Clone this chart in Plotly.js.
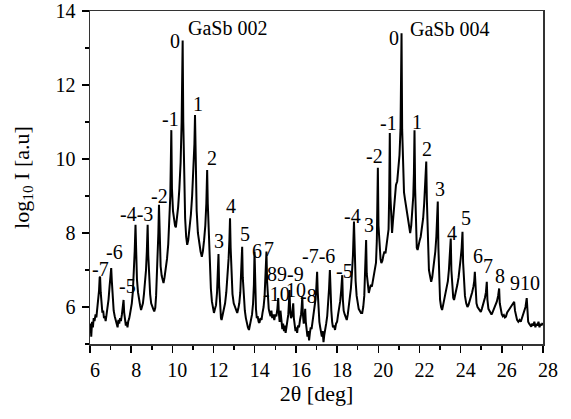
<!DOCTYPE html>
<html>
<head>
<meta charset="utf-8">
<script src="https://cdn.plot.ly/plotly-3.0.1.min.js"></script>
<style>html,body{margin:0;padding:0;background:#fff;}#chart{width:571px;height:419px;}</style>
</head>
<body>
<div id="chart"></div>
<script>
// 2θ (deg) sample positions
const twoTheta = [
6.00,6.03,6.06,6.10,6.14,6.18,6.22,6.27,6.31,6.35,6.40,6.44,6.47,6.49,6.52,6.56,6.60,6.64,6.68,6.72,6.76,6.80,6.85,6.90,6.95,6.99,7.03,7.06,7.10,7.15,7.20,7.25,7.30,7.34,7.38,7.42,7.46,7.50,7.55,7.59,7.63,7.66,7.70,7.74,7.78,7.82,7.86,7.90,7.94,7.98,
8.03,8.08,8.13,8.17,8.21,8.24,8.28,8.33,8.38,8.43,8.48,8.52,8.57,8.62,8.67,8.72,8.76,8.80,8.83,8.87,8.92,8.97,9.02,9.07,9.12,9.17,9.21,9.25,9.29,9.32,9.35,9.38,9.43,9.48,9.53,9.57,9.62,9.68,9.74,9.80,9.85,9.90,9.95,9.98,
10.03,10.08,10.13,10.17,10.22,10.28,10.34,10.40,10.45,10.50,10.53,10.57,10.62,10.67,10.72,10.77,10.83,10.90,10.96,11.02,11.07,11.10,11.13,11.18,11.24,11.30,11.37,11.43,11.48,11.54,11.60,11.65,11.69,11.72,11.77,11.82,11.87,11.92,11.97,
12.02,12.07,12.12,12.17,12.21,12.24,12.27,12.32,12.36,12.39,12.44,12.50,12.56,12.62,12.68,12.73,12.77,12.80,12.83,12.87,12.92,12.98,13.04,13.10,13.15,13.20,13.25,13.30,13.35,13.39,13.42,13.47,13.52,13.57,13.62,13.67,13.72,13.77,13.82,13.87,13.92,13.96,13.99,
14.02,14.06,14.10,14.14,14.19,14.23,14.28,14.33,14.38,14.43,14.48,14.53,14.57,14.60,14.64,14.68,14.72,14.77,14.81,14.85,14.90,14.95,15.00,15.05,15.10,15.14,15.17,15.21,15.25,15.29,15.34,15.38,15.42,15.46,15.50,15.54,15.58,15.63,15.66,15.69,15.72,15.76,15.80,15.84,15.87,15.90,15.94,15.98,
16.02,16.06,16.10,16.15,16.20,16.25,16.28,16.31,16.34,16.38,16.42,16.45,16.48,16.52,16.56,16.60,16.64,16.68,16.72,16.76,16.80,16.85,16.90,16.95,16.99,17.03,17.06,17.10,17.14,17.18,17.22,17.26,17.30,17.34,17.38,17.42,17.47,17.52,17.57,17.61,17.65,17.68,17.72,17.76,17.80,17.85,17.90,17.95,
18.00,18.05,18.10,18.15,18.20,18.25,18.28,18.32,18.37,18.42,18.47,18.52,18.57,18.62,18.67,18.72,18.77,18.82,18.85,18.90,18.95,19.00,19.05,19.10,19.16,19.22,19.27,19.32,19.37,19.41,19.44,19.49,19.54,19.59,19.64,19.69,19.74,19.79,19.84,19.89,19.93,19.98,
20.01,20.06,20.11,20.15,20.20,20.25,20.30,20.35,20.40,20.45,20.50,20.53,20.56,20.59,20.63,20.67,20.71,20.76,20.81,20.86,20.92,20.98,21.03,21.08,21.13,21.16,21.20,21.25,21.30,21.35,21.40,21.45,21.50,21.55,21.60,21.65,21.70,21.73,21.76,21.79,21.83,21.87,21.91,21.96,
22.01,22.06,22.12,22.18,22.23,22.28,22.33,22.36,22.41,22.46,22.51,22.57,22.62,22.67,22.72,22.77,22.82,22.86,22.89,22.92,22.96,23.00,23.05,23.10,23.15,23.20,23.26,23.32,23.38,23.43,23.48,23.52,23.55,23.59,23.64,23.68,23.73,23.78,23.84,23.90,23.95,
24.00,24.05,24.09,24.12,24.16,24.21,24.27,24.33,24.38,24.44,24.50,24.56,24.62,24.66,24.69,24.72,24.77,24.82,24.87,24.93,24.98,25.03,25.08,25.13,25.18,25.23,25.27,25.30,25.35,25.40,25.45,25.50,25.54,25.59,25.64,25.70,25.76,25.82,25.87,25.90,25.95,
26.00,26.05,26.10,26.15,26.20,26.26,26.32,26.38,26.44,26.50,26.55,26.60,26.64,26.69,26.74,26.80,26.86,26.92,26.98,27.04,27.10,27.15,27.21,27.24,27.28,27.33,27.38,27.43,27.48,27.53,27.58,27.63,27.68,27.73,27.78,27.83,27.88,27.93,27.98
];
// log10 intensity read at those positions
const logI = [
5.30,5.55,5.20,5.60,5.45,5.70,5.62,5.80,5.72,5.95,6.10,6.45,6.80,6.82,6.40,6.00,5.85,5.90,5.70,5.75,5.62,5.78,5.95,6.20,6.55,6.90,7.05,6.70,6.20,5.90,5.75,5.62,5.55,5.45,5.65,5.55,5.70,5.62,5.80,5.95,6.19,5.85,5.65,5.50,5.60,5.45,5.62,5.68,5.80,5.90,
6.10,6.40,6.90,7.50,8.22,7.40,6.75,6.40,6.15,6.05,5.92,6.00,6.10,6.35,6.60,7.00,7.50,8.22,7.40,6.70,6.35,6.10,6.00,5.95,5.88,5.98,6.30,6.80,7.40,8.00,8.76,7.80,7.10,6.85,6.70,6.65,6.80,7.00,7.30,7.70,8.20,9.00,10.78,9.20,
8.60,8.35,8.20,8.15,8.35,8.70,9.20,9.90,11.00,13.20,11.00,9.40,8.40,7.90,7.68,7.80,8.10,8.50,9.00,9.60,10.40,11.19,9.90,8.60,8.00,7.70,7.50,7.36,7.50,7.80,8.20,8.80,9.70,8.80,7.80,7.00,6.50,6.15,5.95,
5.84,5.95,6.05,6.40,6.90,7.43,6.60,6.00,5.70,5.65,5.80,5.95,6.10,6.40,6.80,7.30,7.80,8.40,7.60,6.80,6.35,6.10,6.00,5.92,5.84,5.95,6.10,6.40,6.90,7.63,6.80,6.20,5.90,5.70,5.55,5.45,5.38,5.55,5.62,5.80,6.10,6.60,7.50,
6.60,5.95,5.70,5.75,5.60,5.57,5.70,5.65,5.85,6.00,6.30,6.80,7.50,6.70,6.10,5.95,5.85,5.75,5.90,5.70,5.80,5.65,5.80,5.75,5.95,6.24,5.85,5.60,5.90,5.55,5.40,5.55,5.35,5.50,5.30,5.45,5.60,5.80,6.10,6.46,5.90,5.70,5.75,5.90,6.10,5.70,5.50,5.35,
5.45,5.30,5.50,5.45,5.65,5.80,6.00,6.28,5.80,5.55,5.70,5.95,5.60,5.35,5.20,5.35,5.10,5.30,5.45,5.40,5.55,5.70,5.90,6.20,6.50,6.95,6.40,5.90,5.60,5.45,5.30,5.20,5.35,5.05,5.25,5.45,5.55,5.75,6.10,6.50,7.00,6.40,5.90,5.60,5.45,5.50,5.38,5.55,
5.60,5.80,5.95,6.15,6.45,6.86,6.20,5.90,5.80,5.70,5.65,5.80,6.00,6.20,6.50,6.90,7.40,8.31,7.30,6.70,6.30,6.10,5.95,5.90,5.84,5.84,6.00,6.30,6.90,7.81,6.90,6.50,6.38,6.50,6.60,6.55,6.70,6.80,6.95,7.20,7.80,9.76,
8.20,7.50,7.30,7.19,7.25,7.40,7.50,7.45,7.65,7.80,8.10,9.00,10.70,9.00,8.20,8.00,8.30,8.70,9.10,9.30,9.40,9.70,10.10,10.80,13.40,10.80,9.60,9.10,8.90,8.70,8.62,8.40,8.20,8.00,8.20,8.50,9.00,9.60,10.78,9.20,8.00,7.60,7.54,7.70,
7.80,7.90,8.10,8.40,8.80,9.30,9.93,8.90,7.60,7.00,6.85,6.68,6.80,7.00,7.20,7.50,7.90,8.40,8.85,7.60,6.60,6.20,6.00,5.92,6.05,6.20,6.35,6.50,6.70,7.00,7.40,7.85,7.00,6.50,6.25,6.19,6.30,6.40,6.60,6.80,7.00,
7.30,7.60,8.03,7.20,6.60,6.30,6.10,6.00,6.05,6.15,6.25,6.40,6.55,6.70,6.95,6.40,6.10,6.00,5.95,5.90,5.87,5.95,6.05,6.10,6.25,6.40,6.68,6.20,5.95,5.90,5.85,5.80,5.84,5.90,6.00,6.05,6.15,6.30,6.50,6.10,5.90,
5.80,5.75,5.78,5.72,5.74,5.85,5.90,5.95,6.00,6.05,6.10,6.14,5.90,5.75,5.65,5.60,5.65,5.60,5.70,5.80,5.90,6.00,6.24,5.80,5.60,5.55,5.50,5.47,5.55,5.50,5.60,5.45,5.55,5.50,5.60,5.45,5.55,5.50,5.57
];
// Satellite / peak labels
const labelText = ["-7","-6","-5","-4-3","-2","-1","0","1","2","3","4","5","6","7","89-9","-10","10","-8","-7-6","-5","-4","3","-2","-1","0","1","2","3","4","5","6","7","8","910"];
const labelX    = [6.49,7.19,7.80,8.24,9.38,9.93,10.15,11.25,11.93,12.27,12.85,13.53,14.09,14.67,15.50,15.08,16.00,16.59,17.12,18.34,18.75,19.55,19.84,20.50,20.76,21.86,22.37,23.00,23.58,24.26,24.84,25.33,25.91,27.13];
const labelY    = [7.03,7.49,6.57,8.51,9.00,11.08,13.19,11.49,10.04,7.78,8.73,7.97,7.51,7.57,6.90,6.36,6.46,6.30,7.38,6.96,8.46,8.22,10.07,10.97,13.28,10.99,10.28,9.20,8.00,8.41,7.38,7.11,6.84,6.64];
// Reflection names
const reflText = ["GaSb 002","GaSb 004"];
const reflX    = [10.66,21.44];
const reflY    = [13.54,13.51];

const FONT = "'Liberation Serif', 'Times New Roman', serif";
const annotations = [];
for (let i = 0; i < labelText.length; i++) {
  annotations.push({x: labelX[i], y: labelY[i], xref: "x", yref: "y", text: labelText[i],
    showarrow: false, xanchor: "center", yanchor: "middle",
    font: {family: FONT, size: 20, color: "#000"}});
}
for (let i = 0; i < reflText.length; i++) {
  annotations.push({x: reflX[i], y: reflY[i], xref: "x", yref: "y", text: reflText[i],
    showarrow: false, xanchor: "left", yanchor: "middle",
    font: {family: FONT, size: 20, color: "#000"}});
}

const trace = {
  x: twoTheta, y: logI, type: "scatter", mode: "lines",
  line: {color: "#000", width: 2}, hoverinfo: "skip"
};

const layout = {
  width: 571, height: 419,
  margin: {l: 90, r: 28, t: 11, b: 75},
  paper_bgcolor: "#fff", plot_bgcolor: "#fff",
  showlegend: false,
  font: {family: FONT, size: 20, color: "#000"},
  xaxis: {
    range: [6, 28], tickmode: "linear", tick0: 6, dtick: 2,
    ticks: "outside", ticklen: 7, tickwidth: 1.5, tickcolor: "#000",
    minor: {dtick: 1, ticks: "outside", ticklen: 4, tickwidth: 1.5, tickcolor: "#000"},
    showline: true, linecolor: "#333", linewidth: 1.5, mirror: true,
    showgrid: false, zeroline: false,
    tickfont: {family: FONT, size: 20, color: "#000"},
    ticklabelshift: 5, ticklabelstandoff: 0,
    title: {text: "2θ [deg]", font: {family: FONT, size: 22, color: "#000"}, standoff: 6}
  },
  yaxis: {
    range: [5, 14], tickmode: "linear", tick0: 6, dtick: 2,
    ticks: "outside", ticklen: 7, tickwidth: 1.5, tickcolor: "#000",
    minor: {dtick: 1, ticks: "outside", ticklen: 4, tickwidth: 1.5, tickcolor: "#000"},
    showline: true, linecolor: "#333", linewidth: 1.5, mirror: true,
    showgrid: false, zeroline: false,
    tickfont: {family: FONT, size: 20, color: "#000"},
    ticklabelstandoff: 2,
    title: {text: "log<sub>10</sub> I [a.u]", font: {family: FONT, size: 22, color: "#000"}, standoff: 20}
  },
  annotations: annotations
};

Plotly.newPlot("chart", [trace], layout, {staticPlot: true, displayModeBar: false});
</script>
</body>
</html>
